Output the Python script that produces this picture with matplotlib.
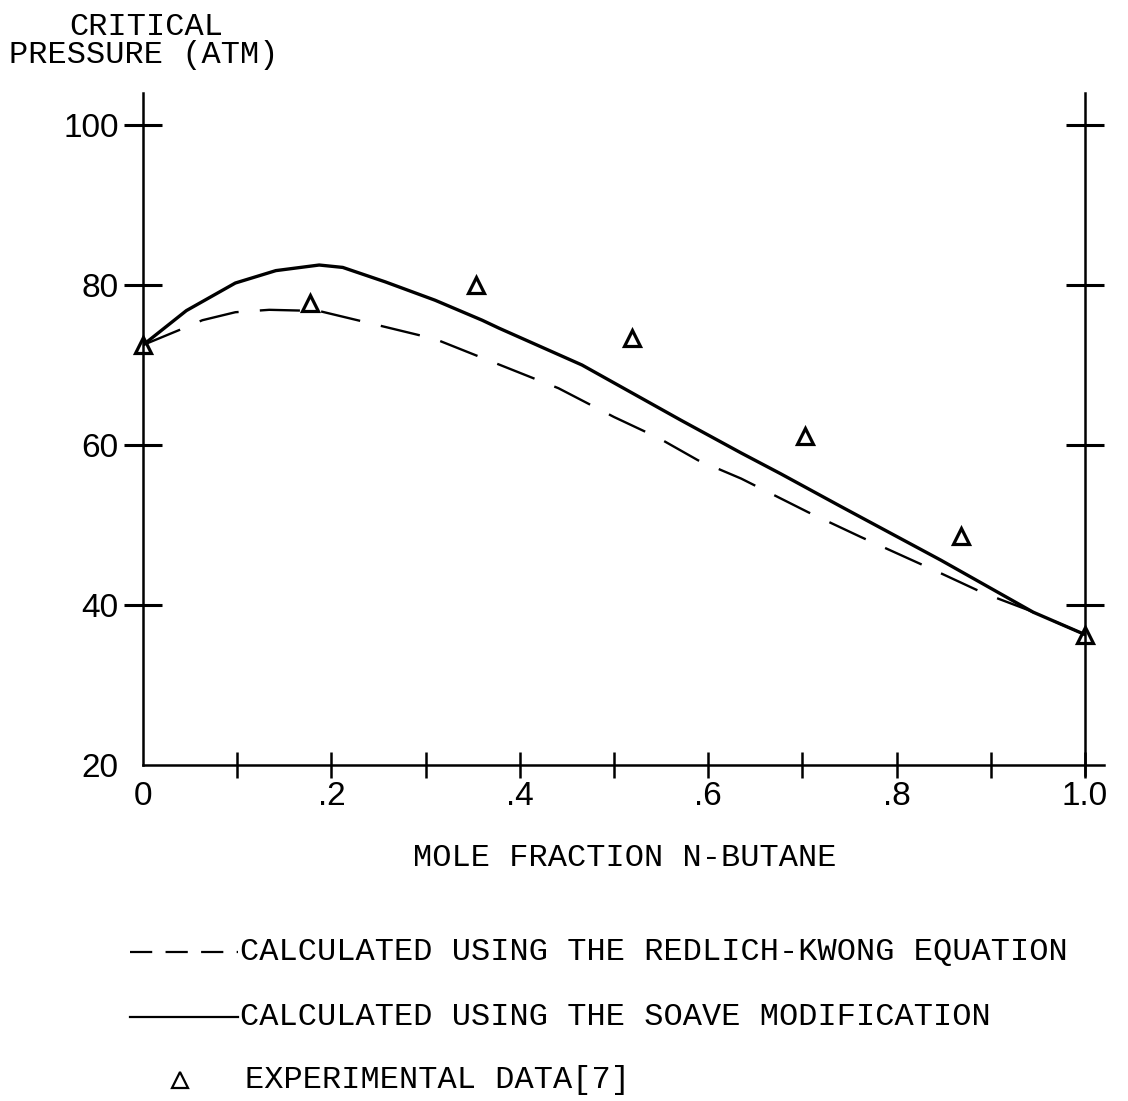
import matplotlib
matplotlib.use('Agg')
import matplotlib.pyplot as plt
from matplotlib.lines import Line2D

# mole fraction n-butane vs critical pressure (atm)
x_soave = [0, 0.046, 0.098, 0.141, 0.187, 0.212, 0.257, 0.31, 0.36, 0.378,
           0.466, 0.571, 0.635, 0.677, 0.741, 0.847, 0.945, 1.0]
p_soave = [72.5, 76.8, 80.25, 81.8, 82.5, 82.2, 80.4, 78.1, 75.6, 74.6,
           70.0, 63.1, 59.0, 56.4, 52.3, 45.6, 39.1, 36.3]

x_rk = [0, 0.039, 0.063, 0.098, 0.134, 0.187, 0.24, 0.31, 0.36, 0.441,
        0.5, 0.547, 0.589, 0.635, 0.706, 0.762, 0.839, 0.892, 0.939, 1.0]
p_rk = [72.5, 74.4, 75.6, 76.6, 76.9, 76.75, 75.25, 73.25, 70.9, 67.1,
        63.5, 60.9, 58.1, 55.8, 51.6, 48.5, 44.4, 41.5, 39.4, 36.3]

x_exp = [0, 0.177, 0.353, 0.519, 0.703, 0.868, 1.0]
p_exp = [72.5, 77.7, 80.0, 73.4, 61.1, 48.6, 36.25]

xticks = [0.1 * i for i in range(11)]
xlabels = ['0', '', '.2', '', '.4', '', '.6', '', '.8', '', '1.0']
yticks = [20, 40, 60, 80, 100]
ylabels = ['20', '40', '60', '80', '100']

mono = 'Liberation Mono'
sans = 'Liberation Sans'


def main():
    fig = plt.figure(figsize=(11.28, 11.01), dpi=100)
    ax = fig.add_axes([0.1268, 0.3052, 0.8351, 0.6103])
    ax.set_xlim(0, 1.0)
    ax.set_ylim(20, 104)

    ax.plot(x_soave, p_soave, color='black', lw=2.4, solid_capstyle='round',
            solid_joinstyle='round')
    ax.plot(x_rk, p_rk, color='black', lw=1.7, dashes=(17, 9))
    ax.plot(x_exp, p_exp, linestyle='none', marker='^', markersize=12,
            markerfacecolor='none', markeredgecolor='black', markeredgewidth=2.3,
            clip_on=False, zorder=5)

    ax.spines['top'].set_visible(False)
    for s in ['left', 'right', 'bottom']:
        ax.spines[s].set_linewidth(1.8)
    ax.spines['bottom'].set_bounds(0, 1.02)
    ax.spines['right'].set_bounds(18.7, 104)

    ax.set_xticks(xticks)
    ax.set_xticklabels(xlabels, fontfamily=sans, fontsize=24)
    ax.set_yticks(yticks)
    ax.set_yticklabels(ylabels, fontfamily=sans, fontsize=24)
    ax.tick_params(axis='x', direction='inout', length=19, width=1.8, pad=2)
    ax.tick_params(axis='y', direction='inout', length=27, width=2.2, pad=4,
                   right=True)
    # no tick mark at 20, that is the x-axis itself
    ax.yaxis.get_major_ticks()[0].tick1line.set_visible(False)
    ax.yaxis.get_major_ticks()[0].tick2line.set_visible(False)
    ax.xaxis.get_major_ticks()[0].tick1line.set_visible(False)

    fig.text(0.1294, 0.9755, 'CRITICAL', ha='center', va='center',
             fontfamily=mono, fontsize=23)
    fig.text(0.1277, 0.950, 'PRESSURE (ATM)', ha='center', va='center',
             fontfamily=mono, fontsize=23)
    fig.text(0.554, 0.2207, 'MOLE FRACTION N-BUTANE', ha='center', va='center',
             fontfamily=mono, fontsize=23)

    # legend drawn by hand below the plot
    w, h = 1128.0, 1101.0
    fig.add_artist(Line2D([130 / w, 238 / w], [1 - 952 / h, 1 - 952 / h],
                          color='black', lw=1.6, dashes=(10, 6)))
    fig.add_artist(Line2D([130 / w, 238 / w], [1 - 1017 / h, 1 - 1017 / h],
                          color='black', lw=1.6))
    fig.add_artist(Line2D([180 / w], [1 - 1080 / h], linestyle='none',
                          marker='^', markersize=11, markerfacecolor='none',
                          markeredgecolor='black', markeredgewidth=1.6))
    fig.text(240 / w, 1 - 952 / h, 'CALCULATED USING THE REDLICH-KWONG EQUATION',
             ha='left', va='center', fontfamily=mono, fontsize=23)
    fig.text(240 / w, 1 - 1017 / h, 'CALCULATED USING THE SOAVE MODIFICATION',
             ha='left', va='center', fontfamily=mono, fontsize=23)
    fig.text(245 / w, 1 - 1080 / h, 'EXPERIMENTAL DATA[7]',
             ha='left', va='center', fontfamily=mono, fontsize=23)

    fig.savefig('out.png', dpi=100, facecolor='white')


if __name__ == "__main__":
    main()
